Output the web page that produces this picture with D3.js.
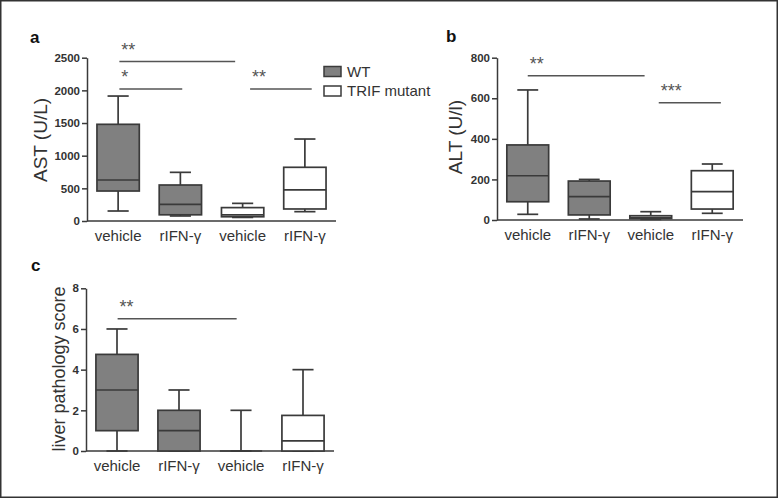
<!DOCTYPE html>
<html>
<head>
<meta charset="utf-8">
<script src="https://cdn.jsdelivr.net/npm/d3@7"></script>
<style>
  body { margin: 0; background: #fff; }
  svg { display: block; font-family: "Liberation Sans", Arial, sans-serif; }
</style>
</head>
<body>
<div id="fig"></div>
<script>
// categories (same four groups in every panel)
var groups = ["vehicle", "rIFN-\u03b3", "vehicle", "rIFN-\u03b3"];
var genotype = ["WT", "WT", "TRIF mutant", "TRIF mutant"];

// box stats per group: [min, q1, median, q3, max]
var astStats = [[153, 459, 628, 1480, 1913], [77, 95, 255, 551, 745], [55, 65, 95, 205, 270], [143, 184, 475, 822, 1255]];
var altStats = [[28, 90, 218, 370, 641], [5, 25, 115, 192, 200], [3, 7, 12, 21, 41], [33, 54, 140, 243, 276]];
var scoreStats = [[0, 1, 3, 4.75, 6], [0, 0, 1, 2, 3], [0, 0, 0, 0, 2], [0, 0, 0.5, 1.75, 4]];

// y ticks
var astTicks = [0, 500, 1000, 1500, 2000, 2500];
var altTicks = [0, 200, 400, 600, 800];
var scoreTicks = [0, 2, 4, 6, 8];

// significance bars: [from group, to group, value, stars]
var astSig = [[0.02, 1.88, 2440, "**"], [0.02, 1.03, 2020, "*"], [2.12, 3.11, 2020, "**"]];
var altSig = [[0.0, 1.9, 711, "**"], [2.13, 3.14, 578, "***"]];
var scoreSig = [[0.01, 1.93, 6.5, "**"]];

var fills = { "WT": "#808080", "TRIF mutant": "#ffffff" };
var ink = "#3a3a3a";

var svg = d3.select("#fig").append("svg")
    .attr("width", 778).attr("height", 498);

svg.append("rect")
    .attr("x", 0.75).attr("y", 0.75).attr("width", 776.5).attr("height", 496.5)
    .attr("fill", "none").attr("stroke", "#333").attr("stroke-width", 1.5);

function drawPanel(opt) {
    var y = d3.scaleLinear().domain(opt.domain).range([opt.y0, opt.y1]);
    var x = d3.scaleBand().domain(d3.range(groups.length))
        .range([opt.x0, opt.x1]).paddingInner(0.32).paddingOuter(0.16);
    var bw = x.bandwidth();
    var step = x.step();
    var center = function (i) { return x(0) + bw / 2 + i * step; };

    var g = svg.append("g");

    // y axis
    var ya = g.append("g")
        .attr("transform", "translate(" + opt.x0 + ",0)")
        .call(d3.axisLeft(y).tickValues(opt.ticks).tickFormat(d3.format("d"))
            .tickSize(5).tickPadding(2).tickSizeOuter(0));
    ya.select(".domain").attr("stroke", ink).attr("stroke-width", 1.5);
    ya.selectAll(".tick line").attr("stroke", ink).attr("stroke-width", 1.5);
    ya.selectAll(".tick text")
        .attr("fill", "#333").style("font-size", "11.5px").style("font-weight", "bold");

    // x axis
    var xa = g.append("g")
        .attr("transform", "translate(0," + opt.y0 + ")")
        .call(d3.axisBottom(x).tickSize(0).tickPadding(9).tickSizeOuter(0)
            .tickFormat(function (i) { return groups[i]; }));
    xa.select(".domain").attr("stroke", ink).attr("stroke-width", 1.5)
        .attr("d", "M" + opt.x0 + ",0H" + opt.x1);
    xa.selectAll(".tick text").attr("fill", "#333").style("font-size", "15px");

    // boxes
    var box = g.selectAll(".box").data(opt.stats).enter().append("g");
    box.append("line")
        .attr("x1", function (d, i) { return center(i); })
        .attr("x2", function (d, i) { return center(i); })
        .attr("y1", function (d) { return y(d[4]); })
        .attr("y2", function (d) { return y(d[0]); })
        .attr("stroke", ink).attr("stroke-width", 1.7);
    box.selectAll(".cap").data(function (d, i) { return [[d[0], i], [d[4], i]]; })
        .enter().append("line")
        .attr("x1", function (d) { return center(d[1]) - bw / 4; })
        .attr("x2", function (d) { return center(d[1]) + bw / 4; })
        .attr("y1", function (d) { return y(d[0]); })
        .attr("y2", function (d) { return y(d[0]); })
        .attr("stroke", ink).attr("stroke-width", 1.7);
    box.append("rect")
        .attr("x", function (d, i) { return x(i); })
        .attr("width", bw)
        .attr("y", function (d) { return y(d[3]); })
        .attr("height", function (d) { return y(d[1]) - y(d[3]); })
        .attr("fill", function (d, i) { return fills[genotype[i]]; })
        .attr("stroke", ink).attr("stroke-width", 1.7);
    box.append("line")
        .attr("x1", function (d, i) { return x(i); })
        .attr("x2", function (d, i) { return x(i) + bw; })
        .attr("y1", function (d) { return y(d[2]); })
        .attr("y2", function (d) { return y(d[2]); })
        .attr("stroke", ink).attr("stroke-width", 1.7);

    // significance bars
    opt.sig.forEach(function (s) {
        g.append("line")
            .attr("x1", center(s[0])).attr("x2", center(s[1]))
            .attr("y1", y(s[2])).attr("y2", y(s[2]))
            .attr("stroke", "#555").attr("stroke-width", 1.5);
        g.append("text")
            .attr("x", center(s[0]) + 2).attr("y", y(s[2]) - 6)
            .attr("fill", "#555").style("font-size", "18px")
            .text(s[3]);
    });

    // y axis title
    g.append("text")
        .attr("transform", "translate(" + opt.titleX + "," + opt.titleY + ") rotate(-90)")
        .attr("text-anchor", "middle").attr("dy", "0.35em")
        .attr("fill", "#333").style("font-size", opt.titleSize)
        .text(opt.title);

    // panel letter
    g.append("text")
        .attr("x", opt.letterX).attr("y", opt.letterY)
        .attr("fill", "#111").style("font-size", "17px").style("font-weight", "bold")
        .text(opt.letter);
}

drawPanel({ stats: astStats, domain: [0, 2500], ticks: astTicks, sig: astSig,
    x0: 87, x1: 336, y0: 221, y1: 57.7, title: "AST (U/L)", titleX: 40, titleY: 140, titleSize: "19px",
    letter: "a", letterX: 30, letterY: 43 });
drawPanel({ stats: altStats, domain: [0, 800], ticks: altTicks, sig: altSig,
    x0: 497, x1: 743, y0: 220, y1: 57.7, title: "ALT (U/l)", titleX: 455, titleY: 137, titleSize: "19px",
    letter: "b", letterX: 446, letterY: 42 });
drawPanel({ stats: scoreStats, domain: [0, 8], ticks: scoreTicks, sig: scoreSig,
    x0: 86, x1: 334, y0: 451, y1: 288.3, title: "liver pathology score", titleX: 59, titleY: 369, titleSize: "18px",
    letter: "c", letterX: 31, letterY: 271 });

// legend
var legend = svg.append("g");
var legendKeys = ["WT", "TRIF mutant"];
var ly = d3.scalePoint().domain(legendKeys).range([71.5, 91]);
legend.selectAll("rect").data(legendKeys).enter().append("rect")
    .attr("x", 324).attr("y", function (d) { return ly(d) - 5; })
    .attr("width", 17).attr("height", 10)
    .attr("fill", function (d) { return fills[d]; })
    .attr("stroke", ink).attr("stroke-width", 1.5);
legend.selectAll("text").data(legendKeys).enter().append("text")
    .attr("x", 347).attr("y", function (d) { return ly(d); })
    .attr("dy", "0.35em").attr("fill", "#333").style("font-size", "15px")
    .text(function (d) { return d; });
</script>
</body>
</html>
